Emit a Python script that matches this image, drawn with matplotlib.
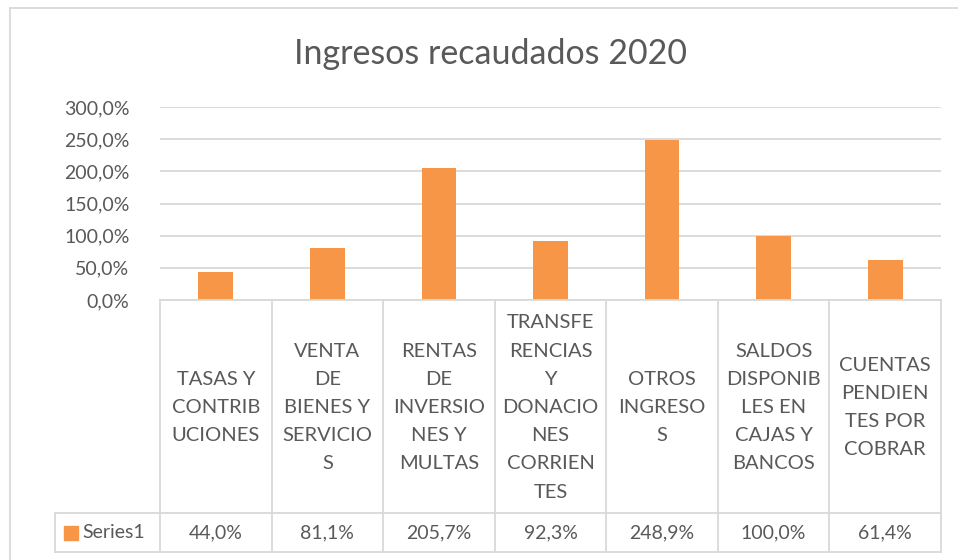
import matplotlib.pyplot as plt
from matplotlib.lines import Line2D
from matplotlib.patches import Rectangle

plt.rcParams['font.family'] = ['Lato', 'DejaVu Sans']

categorias = [
    "TASAS Y\nCONTRIB\nUCIONES",
    "VENTA\nDE\nBIENES Y\nSERVICIO\nS",
    "RENTAS\nDE\nINVERSIO\nNES Y\nMULTAS",
    "TRANSFE\nRENCIAS\nY\nDONACIO\nNES\nCORRIEN\nTES",
    "OTROS\nINGRESO\nS",
    "SALDOS\nDISPONIB\nLES EN\nCAJAS Y\nBANCOS",
    "CUENTAS\nPENDIEN\nTES POR\nCOBRAR",
]
valores = [44.0, 81.1, 205.7, 92.3, 248.9, 100.0, 61.4]
serie = "Series1"
titulo = "Ingresos recaudados 2020"
yticks = [0, 50, 100, 150, 200, 250, 300]

naranja = '#F79646'
gris = '#D9D9D9'
texto = '#595959'

W, H = 958, 560
fig = plt.figure(figsize=(W / 100, H / 100), dpi=100)

# chart border (left and top visible)
fig.add_artist(Line2D([10 / W, 10 / W], [0, 1 - 8 / H], color=gris, lw=1.3))
fig.add_artist(Line2D([10 / W, 1], [1 - 8 / H, 1 - 8 / H], color=gris, lw=1.3))

fig.text(490 / W, 1 - 64 / H, titulo, ha='center', va='baseline',
         fontsize=24.5, color=texto)

# plot area in pixels
x0, x1 = 160, 941
ytop, ybase = 107, 300
ax = fig.add_axes([x0 / W, 1 - ybase / H, (x1 - x0) / W, (ybase - ytop) / H])
n = len(valores)
pos = [i + 0.5 for i in range(n)]
ax.bar(pos, valores, width=0.31, color=naranja, zorder=3)
ax.set_xlim(0, n)
ax.set_ylim(0, 300)
ax.set_yticks(yticks)
ax.set_yticklabels([f"{v:.1f}".replace('.', ',') + '%' for v in yticks],
                   fontsize=14, color=texto)
ax.tick_params(axis='y', length=0, pad=22)
ax.set_xticks([])
for s in ax.spines.values():
    s.set_visible(False)
ax.grid(axis='y', color=gris, lw=1.3, zorder=0)
ax.set_facecolor('none')

# data table
ybot = 552
yrow = 513
tab = fig.add_axes([x0 / W, 1 - ybot / H, (x1 - x0) / W, (ybot - ybase) / H])
tab.set_xlim(0, n)
tab.set_ylim(ybot - ybase, 0)
tab.axis('off')
hr = yrow - ybase
tot = ybot - ybase
cw = (x1 - x0) / n
xl = (55 - x0) / cw
kw = dict(color=gris, lw=1.3, clip_on=False)
for i in range(n + 1):
    tab.plot([i, i], [0, tot], **kw)
tab.plot([0, n], [0, 0], **kw)
tab.plot([xl, n], [hr, hr], **kw)
tab.plot([xl, n], [tot, tot], **kw)
tab.plot([xl, xl], [hr, tot], **kw)
for i, (c, v) in enumerate(zip(categorias, valores)):
    tab.text(i + 0.5, hr / 2 + 1, c, ha='center', va='center', fontsize=14.5,
             color=texto, linespacing=1.8)
    tab.text(i + 0.5, (hr + tot) / 2, f"{v:.1f}".replace('.', ',') + '%',
             ha='center', va='center', fontsize=14, color=texto)
tab.add_patch(Rectangle(((64 - x0) / cw, (hr + tot) / 2 - 7), 14 / cw, 14,
                        color=naranja, clip_on=False))
tab.text((82 - x0) / cw, (hr + tot) / 2, serie, ha='left', va='center',
         fontsize=14, color=texto)

fig.savefig('out.png', dpi=100)
